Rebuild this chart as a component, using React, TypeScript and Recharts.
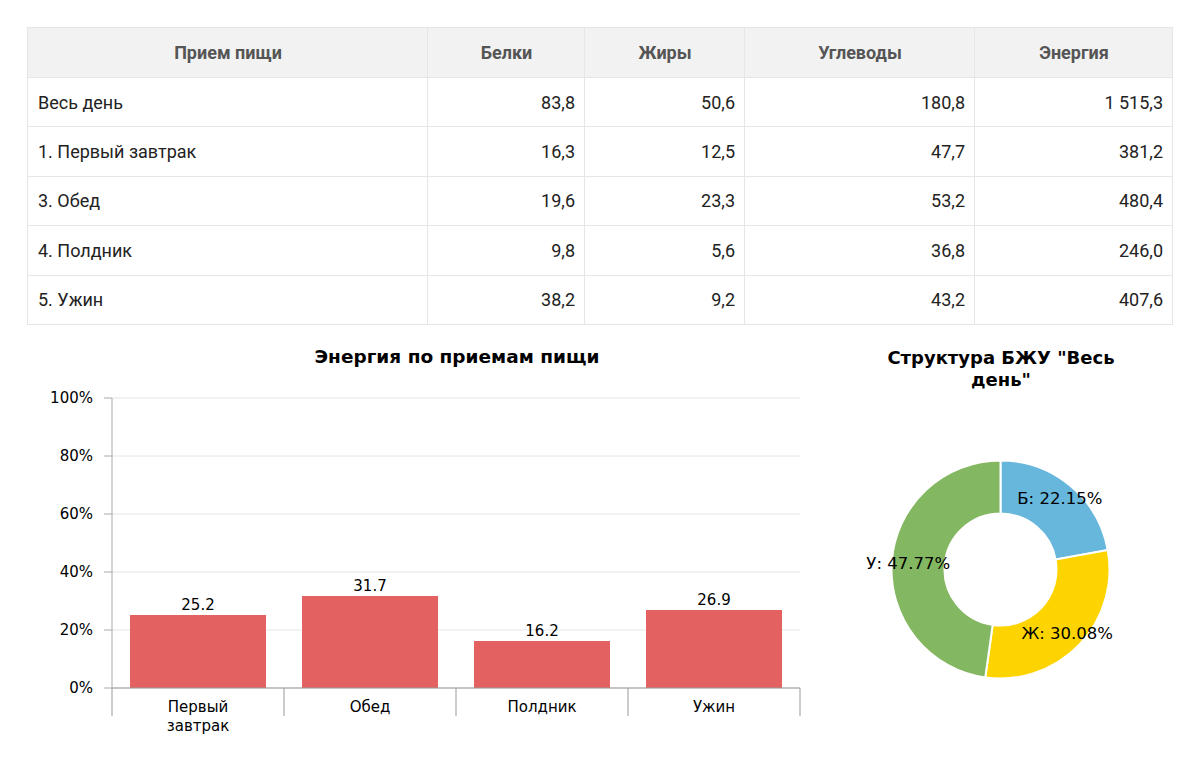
import React from "react";
import { BarChart, Bar, XAxis, YAxis, CartesianGrid, LabelList, PieChart, Pie, Cell } from "recharts";

const tableHead = ["Прием пищи", "Белки", "Жиры", "Углеводы", "Энергия"];
const colWidths = [400, 157, 160, 230, 198];
const meals = ["Весь день", "1. Первый завтрак", "3. Обед", "4. Полдник", "5. Ужин"];
const protein = ["83,8", "16,3", "19,6", "9,8", "38,2"];
const fat = ["50,6", "12,5", "23,3", "5,6", "9,2"];
const carbs = ["180,8", "47,7", "53,2", "36,8", "43,2"];
const energy = ["1 515,3", "381,2", "480,4", "246,0", "407,6"];

const barCategories = ["Первый завтрак", "Обед", "Полдник", "Ужин"];
const energyShare = [25.2, 31.7, 16.2, 26.9];
const yTicks = [0, 20, 40, 60, 80, 100];

const macroNames = ["Б", "Ж", "У"];
const macroShare = [22.15, 30.08, 47.77];
const macroColors = ["#67b7dc", "#fdd400", "#84b761"];

const barData = barCategories.map((name, i) => ({ name, value: energyShare[i] }));
const pieData = macroNames.map((name, i) => ({ name, value: macroShare[i] }));

const chartFont = "'DejaVu Sans', Verdana, sans-serif";
const border = "1px solid #e6e6e6";

const MealTick = (props: any) => {
  const { x, y, payload, index, visibleTicksCount } = props;
  const half = payload.offset || 86;
  const words = String(payload.value).split(" ");
  return (
    <g>
      <line x1={x - half} y1={y} x2={x - half} y2={y + 28} stroke="#999" />
      {index === visibleTicksCount - 1 && (
        <line x1={x + half} y1={y} x2={x + half} y2={y + 28} stroke="#999" />
      )}
      <text x={x} y={y + 24} textAnchor="middle" fill="#000" fontSize={15} fontFamily={chartFont}>
        {words.map((w, i) => (
          <tspan key={i} x={x} dy={i === 0 ? 0 : 19}>{w}</tspan>
        ))}
      </text>
    </g>
  );
};

const macroLabel = (p: any) => {
  const rad = Math.PI / 180;
  const r = (p.innerRadius + p.outerRadius) / 2 + 10;
  const x = p.cx + r * Math.cos(-p.midAngle * rad);
  const y = p.cy + r * Math.sin(-p.midAngle * rad);
  return (
    <text x={x} y={y} textAnchor="middle" dominantBaseline="central" fill="#000" fontSize={16.5} fontFamily={chartFont}>
      {`${p.name}: ${Number(p.value).toFixed(2)}%`}
    </text>
  );
};

const cell = (align: string, extra: any = {}) => ({
  border,
  textAlign: align as any,
  padding: "0 9px 0 10px",
  ...extra,
});

export default function App() {
  return (
    <div style={{ position: "absolute", left: 0, top: 0, width: 1200, height: 776, background: "#fff" }}>
      <table
        style={{
          position: "absolute",
          left: 27,
          top: 27,
          width: 1145,
          borderCollapse: "collapse",
          tableLayout: "fixed",
          fontFamily: "Roboto, sans-serif",
          fontSize: 18,
          color: "#222",
        }}
      >
        <colgroup>
          {colWidths.map((w, i) => <col key={i} style={{ width: w }} />)}
        </colgroup>
        <thead>
          <tr style={{ height: 50, background: "#f2f2f2" }}>
            {tableHead.map((h) => (
              <th key={h} style={cell("center", { color: "#555", fontWeight: 700, fontSize: 18 })}>{h}</th>
            ))}
          </tr>
        </thead>
        <tbody>
          {meals.map((m, i) => (
            <tr key={m} style={{ height: 49.4 }}>
              <td style={cell("left")}>{m}</td>
              <td style={cell("right")}>{protein[i]}</td>
              <td style={cell("right")}>{fat[i]}</td>
              <td style={cell("right")}>{carbs[i]}</td>
              <td style={cell("right")}>{energy[i]}</td>
            </tr>
          ))}
        </tbody>
      </table>

      <div
        style={{
          position: "absolute",
          left: 257,
          top: 345,
          width: 400,
          textAlign: "center",
          fontFamily: chartFont,
          fontWeight: 700,
          fontSize: 18.5,
          lineHeight: "23px",
        }}
      >
        Энергия по приемам пищи
      </div>

      <div style={{ position: "absolute", left: 0, top: 330 }}>
        <BarChart
          width={830}
          height={430}
          data={barData}
          margin={{ top: 68, right: 30, left: 0, bottom: 22 }}
          barCategoryGap={18}
        >
          <CartesianGrid vertical={false} stroke="#e4e4e4" />
          <XAxis
            dataKey="name"
            height={50}
            tickLine={false}
            tickSize={0}
            tickMargin={0}
            axisLine={{ stroke: "#999" }}
            tick={<MealTick />}
            interval={0}
          />
          <YAxis
            width={112}
            domain={[0, 100]}
            ticks={yTicks}
            tickFormatter={(v: number) => `${v}%`}
            tick={{ fill: "#000", fontSize: 15, fontFamily: chartFont }}
            tickSize={8}
            tickMargin={11}
            axisLine={{ stroke: "#aaa" }}
            tickLine={{ stroke: "#aaa" }}
          />
          <Bar dataKey="value" fill="#e46161" isAnimationActive={false}>
            <LabelList dataKey="value" position="top" offset={5} fill="#000" fontSize={15} fontFamily={chartFont} />
          </Bar>
        </BarChart>
      </div>

      <div
        style={{
          position: "absolute",
          left: 871,
          top: 347,
          width: 260,
          textAlign: "center",
          fontFamily: chartFont,
          fontWeight: 700,
          fontSize: 18,
          lineHeight: "22px",
        }}
      >
        Структура БЖУ "Весь день"
      </div>

      <div style={{ position: "absolute", left: 840, top: 400 }}>
        <PieChart width={320} height={340}>
          <Pie
            data={pieData}
            dataKey="value"
            nameKey="name"
            cx={155.5}
            cy={164.5}
            innerRadius={56}
            outerRadius={109}
            startAngle={90}
            endAngle={-270}
            stroke="#fff"
            strokeWidth={2}
            label={macroLabel}
            labelLine={false}
            isAnimationActive={false}
          >
            {pieData.map((d, i) => (
              <Cell key={d.name} fill={macroColors[i]} />
            ))}
          </Pie>
        </PieChart>
      </div>
    </div>
  );
}
